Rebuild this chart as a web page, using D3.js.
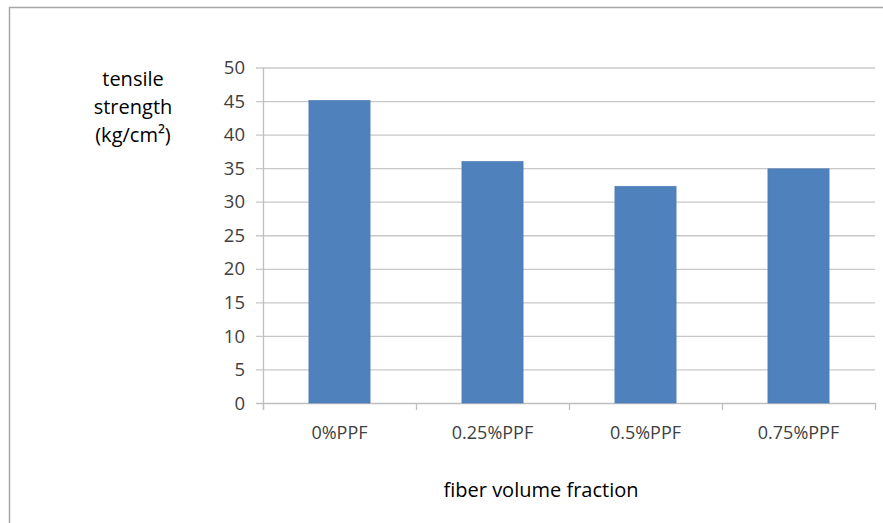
<!DOCTYPE html>
<html>
<head>
<meta charset="utf-8">
<script src="https://cdn.jsdelivr.net/npm/d3@7"></script>
<style>
  body { margin: 0; background: #fff; }
  svg text { font-family: "Open Sans", "Liberation Sans", sans-serif; fill: #404040; }
</style>
</head>
<body>
<div id="chart"></div>
<script>
// data
const categories = ["0%PPF", "0.25%PPF", "0.5%PPF", "0.75%PPF"];
const strength = [45.1, 36.0, 32.3, 34.9];
const yTicks = [0, 5, 10, 15, 20, 25, 30, 35, 40, 45, 50];
const yTitle = ["tensile", "strength", "(kg/cm²)"];
const xTitle = "fiber volume fraction";

const width = 883, height = 523;
const m = {left: 263, right: 8, top: 67.5, bottom: 120};

const svg = d3.select("#chart").append("svg")
    .attr("width", width).attr("height", height);

// outer frame (only top/left visible in the picture)
svg.append("rect")
    .attr("x", 9.5).attr("y", 7.5)
    .attr("width", 900).attr("height", 600)
    .attr("fill", "none").attr("stroke", "#a6a6a6").attr("stroke-width", 1.5);

const x = d3.scaleBand().domain(categories)
    .range([m.left, width - m.right]).paddingInner(0.6).paddingOuter(0.3);
const xTick = d3.scaleLinear().domain([0, categories.length])
    .range([m.left, width - m.right]);
const y = d3.scaleLinear().domain([0, 50]).range([height - m.bottom, m.top]);

// gridlines
svg.append("g")
    .selectAll("line").data(yTicks).enter().append("line")
    .attr("x1", m.left - 7).attr("x2", width - m.right)
    .attr("y1", d => y(d) + 0.5).attr("y2", d => y(d) + 0.5)
    .attr("stroke", d => d === 0 ? "#bfbfbf" : "#c8c8c8").attr("stroke-width", 1.3);

// y axis line
svg.append("line")
    .attr("x1", m.left + 0.5).attr("x2", m.left + 0.5)
    .attr("y1", y(50)).attr("y2", y(0) + 7)
    .attr("stroke", "#bfbfbf").attr("stroke-width", 1.3);

// x tick marks between categories
svg.append("g")
    .selectAll("line").data(d3.range(categories.length + 1)).enter().append("line")
    .attr("x1", d => xTick(d) + 0.5).attr("x2", d => xTick(d) + 0.5)
    .attr("y1", y(0)).attr("y2", y(0) + 7)
    .attr("stroke", "#bfbfbf").attr("stroke-width", 1.3);

// y tick labels
svg.append("g")
    .selectAll("text").data(yTicks).enter().append("text")
    .attr("x", 245).attr("y", d => y(d))
    .attr("dy", "0.36em").attr("text-anchor", "end")
    .style("font-size", "18.5px")
    .text(d => d);

// bars
svg.append("g")
    .selectAll("rect").data(strength).enter().append("rect")
    .attr("x", (d, i) => x(categories[i]))
    .attr("width", x.bandwidth())
    .attr("y", d => y(d))
    .attr("height", d => y(0) - y(d))
    .attr("fill", "#4f81bd")
    .attr("stroke", "#4a7ab5").attr("stroke-width", 0.6);

// x labels
svg.append("g")
    .selectAll("text").data(categories).enter().append("text")
    .attr("x", d => x(d) + x.bandwidth() / 2)
    .attr("y", 439)
    .attr("text-anchor", "middle")
    .style("font-size", "18px")
    .text(d => d);

// y title
svg.append("g")
    .selectAll("text").data(yTitle).enter().append("text")
    .attr("x", 133).attr("y", (d, i) => 86 + i * 28)
    .attr("text-anchor", "middle")
    .style("font-size", "20px").style("fill", "#000")
    .text(d => d);

// x title
svg.append("text")
    .attr("x", 541).attr("y", 497)
    .attr("text-anchor", "middle")
    .style("font-size", "20px").style("fill", "#000")
    .text(xTitle);
</script>
</body>
</html>
